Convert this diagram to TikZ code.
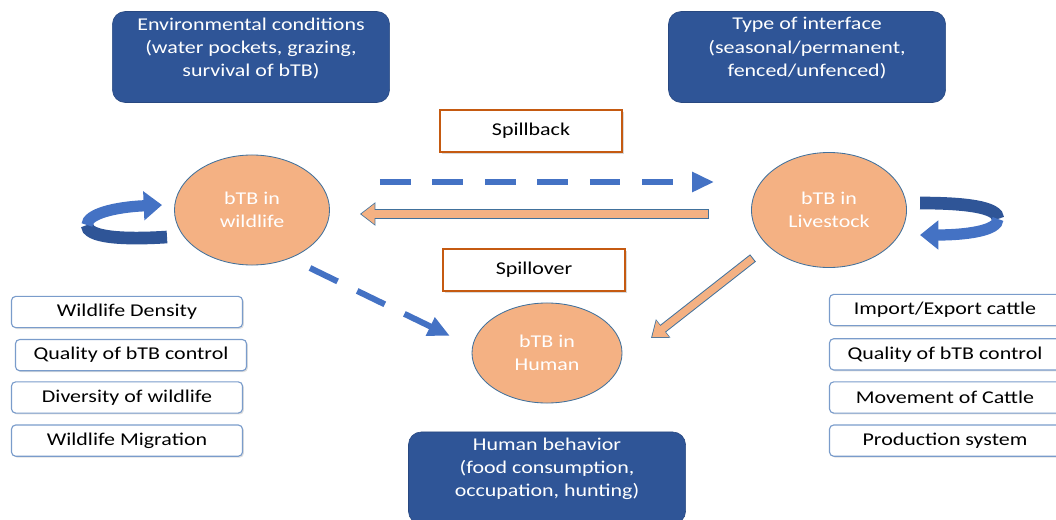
\documentclass[tikz,border=0pt]{standalone}
\usepackage{fontspec}
\setmainfont{Carlito}[FakeStretch=1.22]
\usepackage{xcolor}
\usetikzlibrary{arrows.meta, positioning}
\usetikzlibrary{shapes.geometric, shadows}
\definecolor{darkblue}{HTML}{2F5597}
\definecolor{midblue}{HTML}{4472C4}
\definecolor{peach}{HTML}{F4B183}
\definecolor{rust}{HTML}{C55A11}
\definecolor{edgeblue}{HTML}{41719C}
\definecolor{listblue}{HTML}{7A9CCB}
\tikzstyle{darkbox} = [rounded corners=9pt, fill=darkblue, draw=darkblue!85!black, minimum width=6.925cm, minimum height=2.275cm]
\tikzstyle{boxtext} = [anchor=north, align=center, text=white, yshift=-1pt, font=\fontsize{12.8}{16.4}\selectfont]
\tikzstyle{host} = [ellipse, fill=peach, draw=edgeblue, line width=0.6pt, text=white, align=center]
\tikzstyle{spill} = [draw=rust, line width=2pt, fill=white, minimum width=4.55cm, minimum height=1.05cm, drop shadow={shadow xshift=1.2pt, shadow yshift=-1.2pt, opacity=0.3}]
\tikzstyle{factor} = [rounded corners=3pt, draw=listblue, line width=0.8pt, fill=white, minimum width=5.775cm, minimum height=0.78cm, drop shadow={shadow xshift=1pt, shadow yshift=-1pt, opacity=0.25}]
\tikzstyle{dasharrow} = [midblue, line width=4.3pt, dash pattern=on 21.8pt off 15.5pt, -{Triangle[width=13.5pt,length=15.6pt]}]
\tikzstyle{blockedge} = [edgeblue, line width=6.6pt, -{Triangle[width=16pt,length=11pt]}]
\tikzstyle{blockfill} = [peach, line width=5.2pt, shorten >=1pt, shorten <=0.7pt, -{Triangle[width=14pt,length=9.5pt]}]
\tikzstyle{loopdark} = [darkblue, line width=9pt]
\tikzstyle{looplight} = [midblue, line width=8pt, -{Triangle[width=20pt,length=13pt]}]

\begin{document}
\begin{tikzpicture}[x=0.025cm, y=-0.025cm, font=\fontsize{12.8}{16}\selectfont]
    \useasboundingbox (0,0) rectangle (1056,519);

    % Context boxes
    \node[darkbox, label={[boxtext]north:{Environmental conditions\\(water pockets, grazing,\\survival of bTB)}}] (env) at (251,57) {};
    \node[darkbox, label={[boxtext]north:{Type of interface\\(seasonal/permanent,\\fenced/unfenced)}}] (iface) at (807,57) {};
    \node[darkbox, minimum height=2.3cm, label={[boxtext]north:{Human behavior\\(food consumption,\\occupation, hunting)}}] (behav) at (547,478) {};

    % Hosts
    \node[host, minimum width=3.875cm, minimum height=2.75cm] (wild) at (252,210) {bTB in\\wildlife};
    \node[host, minimum width=3.875cm, minimum height=2.875cm] (live) at (829,210) {bTB in\\Livestock};
    \node[host, minimum width=3.75cm, minimum height=2.5cm] (human) at (547,353) {bTB in\\Human};

    % Transmission labels
    \node[spill] (back) at (531,131) {Spillback};
    \node[spill] (over) at (534,270) {Spillover};

    % Wildlife factors
    \node[factor] (wdens) at (127,312) {Wildlife Density};
    \node[factor, below=0.27cm of wdens, xshift=0.1cm] (wqual) {Quality of bTB control};
    \node[factor, below=0.25cm of wqual, xshift=-0.1cm] (wdiv) {Diversity of wildlife};
    \node[factor, below=0.27cm of wdiv] (wmig) {Wildlife Migration};

    % Livestock factors
    \node[factor] (limp) at (945,310) {Import/Export cattle};
    \node[factor, below=0.3cm of limp] (lqual) {Quality of bTB control};
    \node[factor, below=0.27cm of lqual] (lmov) {Movement of Cattle};
    \node[factor, below=0.27cm of lmov] (lprod) {Production system};

    % Arrows
    \draw[dasharrow] ([shift={(50,-28)}]wild.east) -- ([shift={(-37,-28)}]live.west);
    \draw[blockedge] ([shift={(-42,4)}]live.west) -- ([shift={(30,4)}]wild.east);
    \draw[blockfill] ([shift={(-42,4)}]live.west) -- ([shift={(30,4)}]wild.east);
    \draw[dasharrow] ([shift={(58,58)}]wild.center) -- ([shift={(-97,-17)}]human.center);
    \draw[blockedge] ([shift={(-76,48)}]live.center) -- ([shift={(104,-15)}]human.center);
    \draw[blockfill] ([shift={(-76,48)}]live.center) -- ([shift={(104,-15)}]human.center);

    % Self loops
    \coordinate (wl-a) at (167,237);
    \coordinate (wl-b) at (87,225);
    \coordinate (wl-c) at (162,205);
    \draw[loopdark] (wl-a) .. controls (120,240) and (87,237) .. (wl-b);
    \draw[looplight] (wl-b) .. controls (87,214) and (115,207) .. (wl-c);

    \coordinate (lr-a) at (920,203);
    \coordinate (lr-b) at (998,219);
    \coordinate (lr-c) at (920,235);
    \draw[loopdark] (lr-a) .. controls (965,203) and (998,207) .. (lr-b);
    \draw[looplight] (lr-b) .. controls (998,231) and (965,235) .. (lr-c);
\end{tikzpicture}
\end{document}
